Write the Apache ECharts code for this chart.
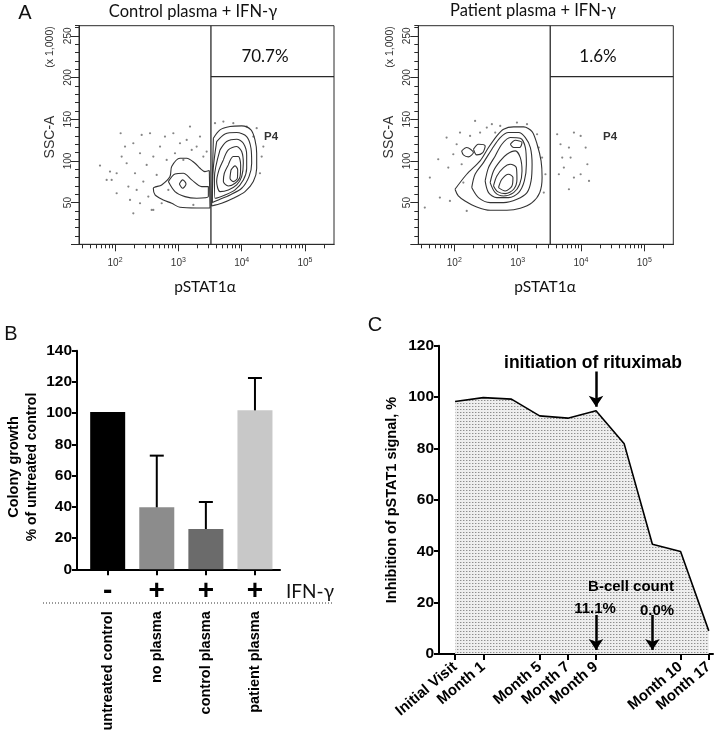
<!DOCTYPE html>
<html><head><meta charset="utf-8">
<script src="https://cdn.jsdelivr.net/npm/echarts@6/dist/echarts.min.js"></script>
<style>html,body{margin:0;padding:0;background:#fff}#c{width:727px;height:737px}</style>
</head><body><div id="c"></div>
<script>
// ---------- Panel A data (x = log10 pSTAT1, y = SSC-A x1000) ----------
const flowRange = [27, 287000];
const sscMax = 262.144;
const flowMinorTicks = [30,40,50,60,70,80,90,200,300,400,500,600,700,800,900,2000,3000,4000,5000,6000,7000,8000,9000,20000,30000,40000,50000,60000,70000,80000,90000,200000];
const flowMajorTicks = [100,1000,10000,100000];
const sscMinorStep = 10;
const sscMajorStep = 50;
const gatePSTAT1 = 3270;
const gateSSC = 201;
const gatePercent = ['70.7%', '1.6%'];
const panelATitles = ['Control plasma + IFN-\u03b3', 'Patient plasma + IFN-\u03b3'];

const ctlContours = [
  [[3.553,127.2],[3.658,137.2],[3.816,141.2],[4.0,142],[4.147,137.2],[4.21,125.2],[4.237,109.2],[4.237,91.2],[4.184,75.2],[4.053,63.2],[3.868,55.2],[3.684,49.2],[3.526,46]],
  [[3.605,123.2],[3.737,132.4],[3.921,134],[4.079,129.2],[4.147,115.2],[4.158,97.2],[4.116,81.2],[4.0,67.2],[3.816,59.2],[3.632,53.2],[3.537,50],[3.55,90]],
  [[3.658,113.2],[3.763,123.2],[3.921,126],[4.026,121.2],[4.079,107.2],[4.079,91.2],[4.026,77.2],[3.895,65.2],[3.737,59.2],[3.579,55.2],[3.57,80]],
  [[3.711,101.2],[3.789,113.2],[3.921,117.2],[4.0,111.2],[4.026,97.2],[4.0,81.2],[3.921,71.2],[3.789,65.2],[3.658,63.2],[3.605,75.2],[3.642,89.2]],
  [[3.789,95.2],[3.868,105.2],[3.947,105.2],[3.984,95.2],[3.974,81.2],[3.895,73.2],[3.789,70],[3.711,75.2],[3.726,85.2]],
  [[3.832,89.2],[3.895,94],[3.937,89.2],[3.932,79.2],[3.868,75.2],[3.816,79.2]],
  [[3.489,88.4],[3.421,87.2],[3.342,91.2],[3.263,97.2],[3.132,103.2],[3.026,103.2],[2.895,93.2],[2.868,81.2],[2.737,71.2],[2.605,67.2],[2.632,59.2],[2.763,53.2],[2.895,49.2],[3.026,44.4],[3.289,43.6],[3.5,43.6]],
  [[2.842,75.2],[2.947,84.4],[3.079,85.2],[3.211,77.2],[3.368,69.2],[3.474,69.2],[3.474,57.2],[3.289,55.2],[3.105,57.2],[2.947,63.2]],
  [[3.016,72.4],[3.068,77.2],[3.121,72.4],[3.068,67.2]]
];
const ctlDots = [[1.763,94.4],[1.921,87.2],[1.947,77.2],[2.026,85.2],[2.089,133.2],[2.105,105.2],[2.158,117.2],[2.184,97.2],[2.211,69.2],[2.237,53.2],[2.289,121.2],[2.316,85.2],[2.342,65.2],[2.395,109.2],[2.421,131.2],[2.447,75.2],[2.5,95.2],[2.526,57.2],[2.553,133.2],[2.579,41.2],[2.605,105.2],[2.658,83.2],[2.711,117.2],[2.737,49.2],[2.789,129.2],[2.816,101.2],[2.842,65.2],[2.921,133.2],[2.947,109.2],[3.026,121.2],[3.079,101.2],[3.132,125.2],[3.184,141.2],[3.211,113.2],[3.289,117.2],[3.342,129.2],[3.395,105.2],[3.447,111.2],[3.237,47.2],[3.711,147.2],[3.868,145.2],[4.079,141.2],[4.237,139.2],[4.342,117.2],[4.316,105.2],[4.289,85.2],[4.184,129.2],[3.579,145.2],[2.289,37.2],[2.605,41.2],[2.026,61.2],[1.868,77.2],[2.395,49.2]];

const patContours = [
  [[2.011,66],[2.196,84],[2.407,100],[2.54,116],[2.672,130],[2.778,138],[2.937,140.8],[3.095,140.8],[3.228,135.2],[3.307,120],[3.37,100],[3.386,80],[3.349,62],[3.228,50],[3.042,43.2],[2.831,40.8],[2.566,40.8],[2.354,44.8],[2.169,52],[2.063,58]],
  [[2.275,68],[2.328,84],[2.46,98],[2.593,114],[2.725,128],[2.857,134],[3.016,134],[3.122,128],[3.201,116],[3.228,96],[3.212,76],[3.148,62],[2.989,54],[2.778,50],[2.566,50],[2.381,56]],
  [[2.487,76],[2.54,92],[2.646,106],[2.751,120],[2.884,128],[3.042,127.2],[3.122,116],[3.138,96],[3.106,76],[3.016,62],[2.857,56],[2.672,56],[2.54,62]],
  [[2.566,74],[2.619,88],[2.725,100],[2.831,108],[2.963,112],[3.042,104],[3.069,88],[3.032,72],[2.937,62],[2.778,58],[2.646,62]],
  [[2.619,70],[2.672,82],[2.778,92],[2.884,96],[2.979,92],[2.989,78],[2.937,66],[2.804,60.8],[2.683,63.2]],
  [[2.698,68],[2.751,78],[2.857,84],[2.926,80],[2.91,70],[2.804,64]],
  [[2.884,120],[2.963,124.8],[3.069,122],[3.032,116],[2.937,116]],
  [[2.116,112],[2.196,116],[2.302,110],[2.222,104.8],[2.143,107.2]],
  [[2.302,114],[2.381,120],[2.487,118],[2.45,110],[2.354,107.2]]
];
const patDots = [[1.534,44],[1.614,80],[1.746,102],[1.772,56],[1.878,128],[1.905,92],[1.931,52],[1.984,108],[2.037,120],[2.09,134],[2.116,96],[2.143,74],[2.196,40],[2.249,130],[2.328,148],[2.407,134],[2.513,140],[2.593,144],[2.646,134],[2.725,142],[2.989,146],[3.148,144],[3.307,132],[3.333,116],[3.386,104],[3.439,84],[3.413,62],[3.624,132],[3.677,120],[3.704,104],[3.651,84],[3.73,92],[3.81,116],[3.836,104],[3.889,134],[3.995,130],[3.995,84],[4.074,116],[4.101,96],[4.127,76],[3.81,66],[3.889,80]];

// ---------- Panel B data ----------
const treatments = ['untreated control', 'no plasma', 'control plasma', 'patient plasma'];
const ifnSigns = ['-', '+', '+', '+'];
const colonyGrowth = [100.7, 39.7, 25.8, 101.8];
const colonyErrUpper = [null, 72.8, 43.1, 122.5];
const barColors = ['#000000', '#8c8c8c', '#6b6b6b', '#c8c8c8'];

// ---------- Panel C data ----------
const visits = ['Initial Visit', 'Month 1', '', 'Month 5', 'Month 7', 'Month 9', '', '', 'Month 10', 'Month 17'];
const inhibition = [98.3, 99.8, 99.2, 92.7, 91.8, 94.7, 81.8, 42.7, 39.9, 9.0];
const arrowVisit = [5, 5, 7];
const arrowFrom = [110, 15.2, 15.2];
const arrowTo = [96.2, 1.6, 1.6];

// ---------------------------------------------------------------
const L = Math.log10;
const xMin = L(flowRange[0]), xMax = L(flowRange[1]);
const AX = '#2a2a2a';
const SANS = 'Liberation Sans, Arial, sans-serif';
const LATO = 'Lato, Open Sans, sans-serif';

function close(pts) { return pts.concat([pts[0]]); }

// dotted fill pattern
const pc = document.createElement('canvas');
pc.width = 3; pc.height = 3;
const pctx = pc.getContext('2d');
pctx.fillStyle = '#eeeeee'; pctx.fillRect(0, 0, 3, 3);
pctx.fillStyle = '#8e8e8e'; pctx.fillRect(1, 1, 1, 1);
pctx.fillStyle = '#c6c6c6'; pctx.fillRect(2, 1, 1, 1);

const grids = [
  { left: 79, top: 25.7, width: 255, height: 218.6, show: true, borderColor: AX, borderWidth: 1 },
  { left: 418.3, top: 25.7, width: 255, height: 218.6, show: true, borderColor: AX, borderWidth: 1 },
  { left: 77, top: 350.7, width: 203, height: 218.6 },
  { left: 439, top: 345.7, width: 274, height: 308.3 }
];
grids.forEach(g => { g.outerBoundsMode = 'none'; g.containLabel = false; });

const visitTickIdx = visits.map((v, i) => v ? i : -1).filter(i => i >= 0);

function flowX(gi, major) {
  return {
    type: 'value', gridIndex: gi, min: xMin, max: xMax, position: 'bottom',
    axisLine: { show: true, onZero: false, lineStyle: { color: AX, width: 1 } },
    splitLine: { show: false },
    axisTick: { show: true, length: major ? 7 : 4, lineStyle: { color: AX, width: 1 },
      customValues: (major ? flowMajorTicks : flowMinorTicks).map(L) },
    axisLabel: major ? { show: true, customValues: flowMajorTicks.map(L), margin: 12,
      formatter: v => '{b|10}{s|' + Math.round(v) + '}',
      rich: { b: { fontSize: 10, fontFamily: SANS, color: '#333' }, s: { fontSize: 7, fontFamily: SANS, color: '#333', padding: [0, 0, 7, 0] } } }
      : { show: false }
  };
}
function flowY(gi, major) {
  return {
    type: 'value', gridIndex: gi, min: 0, max: sscMax, interval: major ? sscMajorStep : sscMinorStep,
    position: 'left',
    axisLine: { show: true, onZero: false, lineStyle: { color: AX, width: 1 } },
    splitLine: { show: false },
    axisTick: { show: true, length: major ? 8 : 4, lineStyle: { color: AX, width: 1 } },
    axisLabel: major ? { show: true, rotate: 90, margin: 6, fontSize: 10, fontFamily: SANS, color: '#333',
      formatter: v => v === 0 ? '' : String(v) } : { show: false }
  };
}

const xAxes = [
  flowX(0, false), flowX(0, true), flowX(1, false), flowX(1, true),
  { // B main
    type: 'value', gridIndex: 2, min: -0.625, max: 3.51, position: 'bottom',
    axisLine: { show: true, onZero: false, lineStyle: { color: '#000', width: 2 } },
    splitLine: { show: false },
    axisTick: { show: true, length: 6, lineStyle: { color: '#000', width: 2 }, customValues: [0, 1, 2, 3] },
    axisLabel: { show: true, customValues: [0, 1, 2, 3], rotate: 90, margin: 42, fontSize: 14.5, fontWeight: 'bold',
      fontFamily: SANS, color: '#000', formatter: v => treatments[Math.round(v)] }
  },
  { // B IFN signs
    type: 'value', gridIndex: 2, min: -0.625, max: 3.51, position: 'bottom', offset: 0,
    axisLine: { show: false, onZero: false }, axisTick: { show: false }, splitLine: { show: false },
    axisLabel: { show: true, customValues: [0, 1, 2, 3], margin: 8, fontSize: 28, fontWeight: 'bold',
      fontFamily: SANS, color: '#000', formatter: v => ifnSigns[Math.round(v)] }
  },
  { // C
    type: 'value', gridIndex: 3, min: -0.57, max: 9.15, position: 'bottom',
    axisLine: { show: true, onZero: false, lineStyle: { color: '#000', width: 2 } },
    splitLine: { show: false },
    axisTick: { show: true, length: 6, lineStyle: { color: '#000', width: 2 }, customValues: visitTickIdx },
    axisLabel: { show: true, customValues: visitTickIdx,
      rotate: 40, margin: 11, fontSize: 15, fontWeight: 'bold', fontFamily: SANS, color: '#000',
      formatter: v => visits[Math.round(v)] }
  }
];
const yAxes = [
  flowY(0, false), flowY(0, true), flowY(1, false), flowY(1, true),
  { type: 'value', gridIndex: 2, min: 0, max: 140, interval: 20, position: 'left',
    axisLine: { show: true, onZero: false, lineStyle: { color: '#000', width: 2 } }, splitLine: { show: false },
    axisTick: { show: true, length: 5, lineStyle: { color: '#000', width: 2 } },
    axisLabel: { margin: 5, fontSize: 15.5, fontWeight: 'bold', fontFamily: SANS, color: '#000' } },
  { type: 'value', gridIndex: 3, min: 0, max: 120, interval: 20, position: 'left',
    axisLine: { show: true, onZero: false, lineStyle: { color: '#000', width: 2 } }, splitLine: { show: false },
    axisTick: { show: true, length: 5, lineStyle: { color: '#000', width: 2 } },
    axisLabel: { margin: 5, fontSize: 15.5, fontWeight: 'bold', fontFamily: SANS, color: '#000' } }
];

const series = [];
function flowSeries(xi, yi, contours, dots) {
  contours.forEach(c => series.push({
    type: 'line', xAxisIndex: xi, yAxisIndex: yi, data: close(c), showSymbol: false, smooth: 0.3,
    lineStyle: { color: '#333', width: 1.1 }, silent: true, z: 3
  }));
  series.push({ type: 'scatter', xAxisIndex: xi, yAxisIndex: yi, data: dots, symbolSize: 2.2,
    itemStyle: { color: '#666' }, silent: true, z: 2 });
  series.push({ type: 'line', xAxisIndex: xi, yAxisIndex: yi, showSymbol: false,
    data: [[L(gatePSTAT1), 0], [L(gatePSTAT1), sscMax]], lineStyle: { color: AX, width: 1.3 }, silent: true, z: 4 });
  series.push({ type: 'line', xAxisIndex: xi, yAxisIndex: yi, showSymbol: false,
    data: [[L(gatePSTAT1), gateSSC], [xMax, gateSSC]], lineStyle: { color: AX, width: 1.3 }, silent: true, z: 4 });
}
flowSeries(1, 1, ctlContours, ctlDots);
flowSeries(3, 3, patContours, patDots);

// Panel B bars
series.push({
  type: 'bar', xAxisIndex: 4, yAxisIndex: 4, barWidth: 35,
  data: colonyGrowth.map((v, i) => ({ value: [i, v], itemStyle: { color: barColors[i] } })), silent: true
});
series.push({
  type: 'custom', xAxisIndex: 4, yAxisIndex: 4, silent: true, z: 5,
  data: colonyGrowth.map((v, i) => [i, v, colonyErrUpper[i]]).filter(d => d[2] !== null),
  renderItem: (params, api) => {
    const p0 = api.coord([api.value(0), api.value(1)]);
    const p1 = api.coord([api.value(0), api.value(2)]);
    const st = { stroke: '#000', lineWidth: 2 };
    return { type: 'group', children: [
      { type: 'line', shape: { x1: p0[0], y1: p0[1], x2: p1[0], y2: p1[1] }, style: st },
      { type: 'line', shape: { x1: p1[0] - 7, y1: p1[1], x2: p1[0] + 7, y2: p1[1] }, style: st }
    ] };
  }
});

// Panel C
series.push({
  type: 'line', xAxisIndex: 6, yAxisIndex: 5, showSymbol: false, silent: true,
  data: inhibition.map((v, i) => [i, v]),
  lineStyle: { color: '#000', width: 1.6 },
  areaStyle: { color: { image: pc, repeat: 'repeat' }, opacity: 1 }
});
series.push({
  type: 'lines', coordinateSystem: 'cartesian2d', xAxisIndex: 6, yAxisIndex: 5, silent: true, z: 6,
  symbol: ['none', 'arrow'], symbolSize: [2, 11],
  lineStyle: { color: '#000', width: 2.5, opacity: 1 },
  data: arrowVisit.map((x, i) => ({ coords: [[x, arrowFrom[i]], [x, arrowTo[i]]] }))
});

function txt(x, y, text, font, opts) {
  return Object.assign({ type: 'text', x: x, y: y, silent: true, z: 100,
    style: Object.assign({ text: text, fill: '#000', align: 'center', verticalAlign: 'middle' }, font) }, opts || {});
}
const R90 = Math.PI / 2;
const graphic = [
  txt(25, 13, 'A', { fontSize: 20, fontFamily: SANS, fill: '#111' }),
  txt(11, 334, 'B', { fontSize: 20, fontFamily: SANS, fill: '#111' }),
  txt(375, 325, 'C', { fontSize: 20, fontFamily: SANS, fill: '#111' }),
  txt(193, 12, panelATitles[0], { fontSize: 16.5, fontFamily: LATO, fill: '#111' }),
  txt(533, 11, panelATitles[1], { fontSize: 16.5, fontFamily: LATO, fill: '#111' }),
  txt(265, 57, gatePercent[0], { fontSize: 17, fontFamily: LATO, fill: '#111' }),
  txt(598, 57, gatePercent[1], { fontSize: 17, fontFamily: LATO, fill: '#111' }),
  txt(271, 137, 'P4', { fontSize: 11.5, fontWeight: 'bold', fontFamily: SANS, fill: '#333' }),
  txt(610, 137, 'P4', { fontSize: 11.5, fontWeight: 'bold', fontFamily: SANS, fill: '#333' }),
  txt(205, 287, 'pSTAT1\u03b1', { fontSize: 15.5, fontFamily: LATO, fill: '#111' }),
  txt(545, 287, 'pSTAT1\u03b1', { fontSize: 15.5, fontFamily: LATO, fill: '#111' }),
  txt(50, 137, 'SSC-A', { fontSize: 14, fontFamily: SANS, fill: '#333' }, { rotation: R90 }),
  txt(389, 137, 'SSC-A', { fontSize: 14, fontFamily: SANS, fill: '#333' }, { rotation: R90 }),
  txt(50, 47, '(x 1,000)', { fontSize: 10.5, fontFamily: SANS, fill: '#333' }, { rotation: R90 }),
  txt(390, 47, '(x 1,000)', { fontSize: 10.5, fontFamily: SANS, fill: '#333' }, { rotation: R90 }),
  txt(14, 467, 'Colony growth', { fontSize: 14.5, fontWeight: 'bold', fontFamily: SANS }, { rotation: R90 }),
  txt(32, 467, '% of untreated control', { fontSize: 14, fontWeight: 'bold', fontFamily: SANS }, { rotation: R90 }),
  txt(286, 592, 'IFN-\u03b3', { fontSize: 19, fontFamily: LATO, align: 'left', fill: '#111' }),
  { type: 'line', silent: true, shape: { x1: 43, y1: 603, x2: 333, y2: 603 },
    style: { stroke: '#333', lineWidth: 1, lineDash: [1, 2] } },
  txt(392, 500, 'Inhibition of pSTAT1 signal, %', { fontSize: 14.5, fontWeight: 'bold', fontFamily: SANS }, { rotation: R90 }),
  txt(593, 363, 'initiation of rituximab', { fontSize: 17.5, fontWeight: 'bold', fontFamily: SANS }),
  txt(631, 587, 'B-cell count', { fontSize: 15, fontWeight: 'bold', fontFamily: SANS }),
  txt(595, 609, '11.1%', { fontSize: 15, fontWeight: 'bold', fontFamily: SANS }),
  txt(657, 611, '0.0%', { fontSize: 15, fontWeight: 'bold', fontFamily: SANS })
];

const chart = echarts.init(document.getElementById('c'), null, { renderer: 'canvas' });
chart.setOption({
  animation: false,
  backgroundColor: '#ffffff',
  grid: grids,
  xAxis: xAxes,
  yAxis: yAxes,
  series: series,
  graphic: graphic,
  tooltip: { show: false }
});
</script></body></html>
